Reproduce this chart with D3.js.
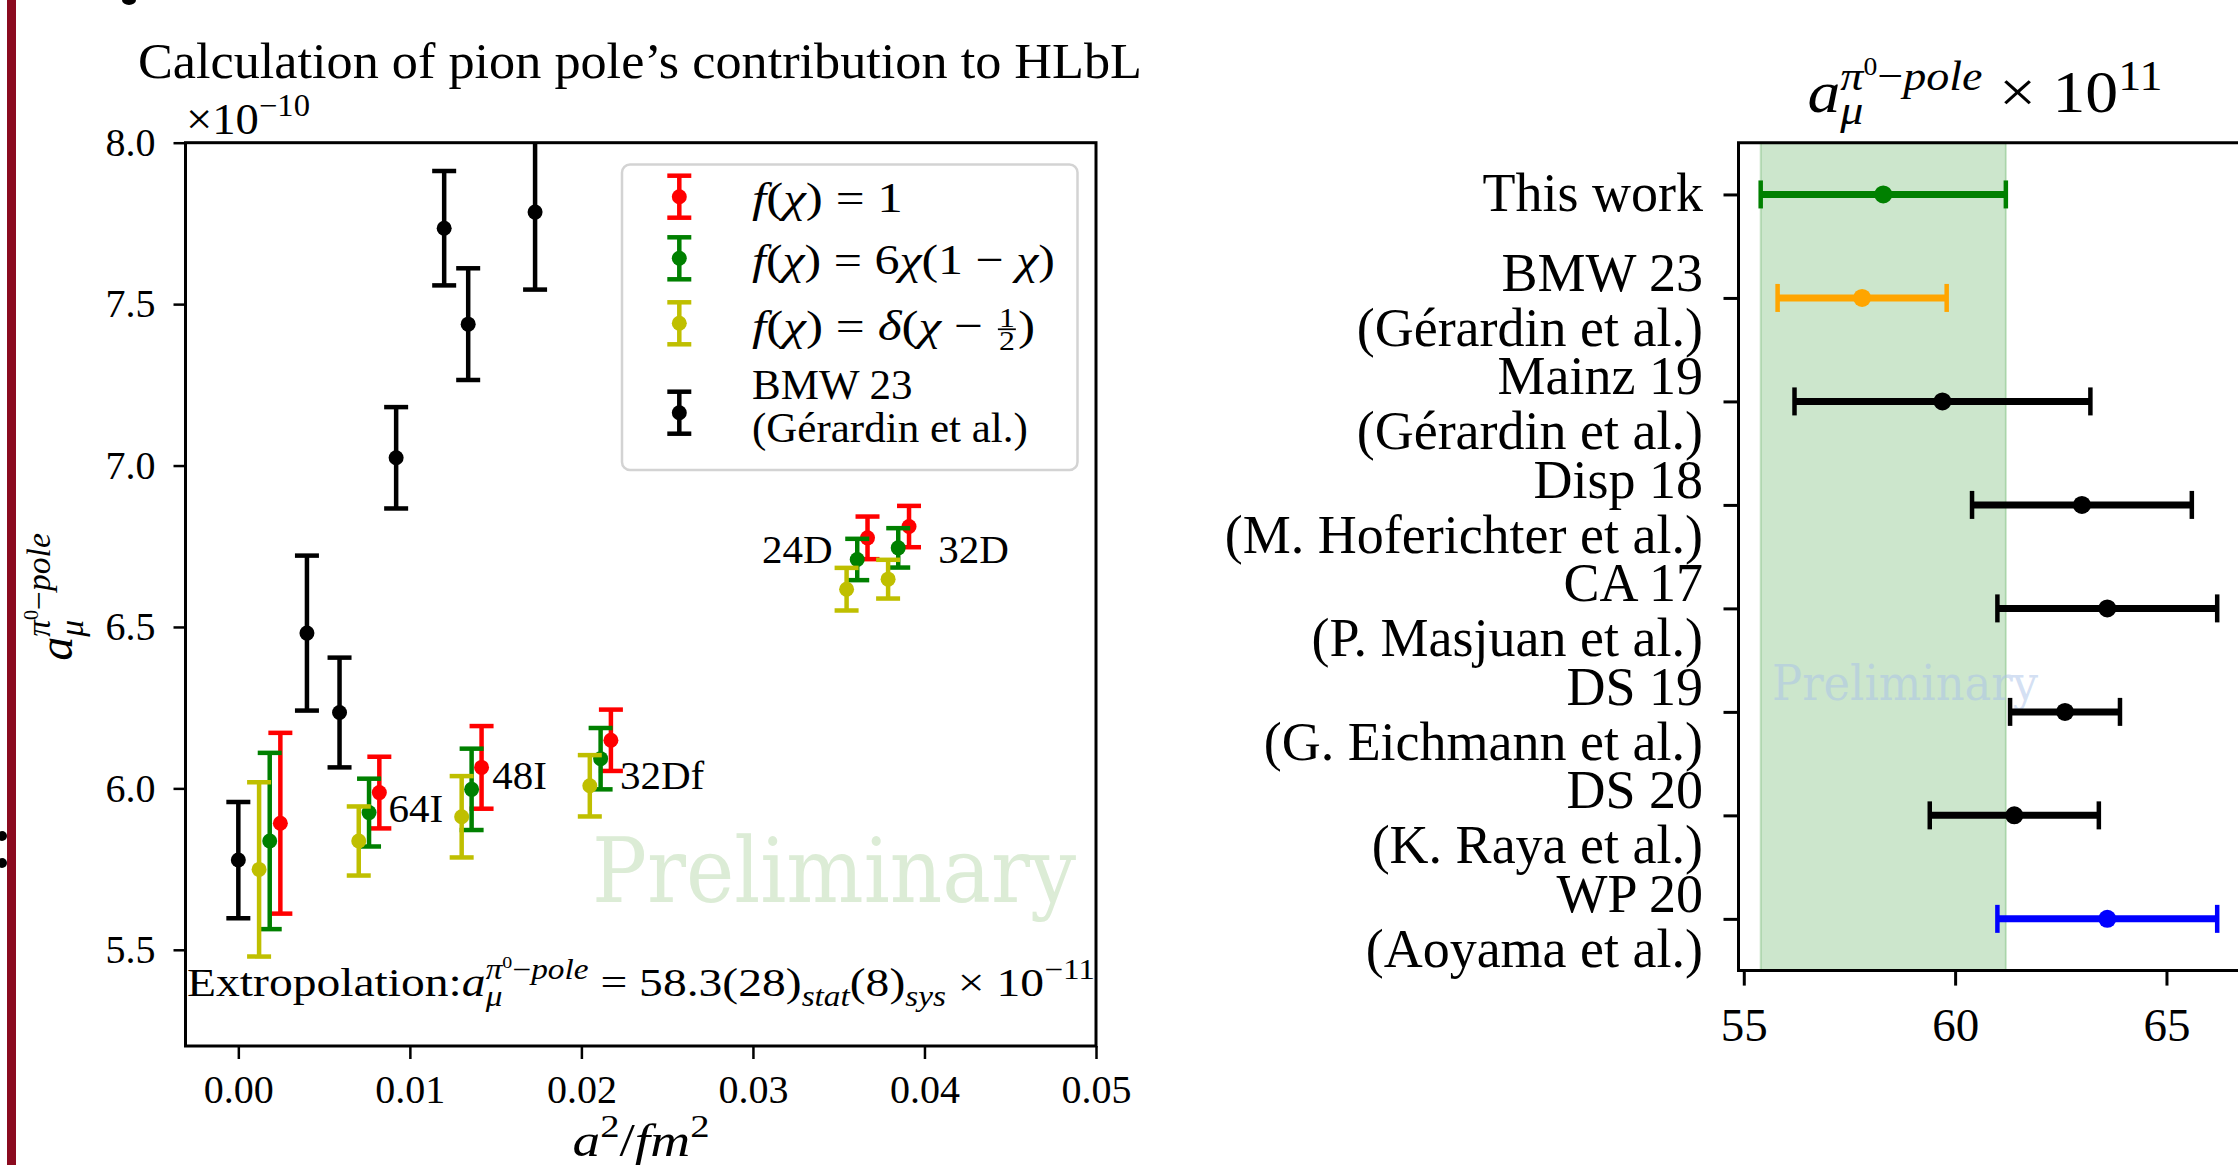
<!DOCTYPE html>
<html>
<head>
<meta charset="utf-8">
<script src="https://cdn.jsdelivr.net/npm/d3@7"></script>
<style>
  body { margin: 0; background: #fff; }
  svg { display: block; font-family: "Liberation Serif", serif; }
</style>
</head>
<body>
<script>
// ---------- left panel data (a_mu in units of 1e-10) ----------
const xTicksL = [0, 0.01, 0.02, 0.03, 0.04, 0.05];
const yTicksL = [5.5, 6.0, 6.5, 7.0, 7.5, 8.0];

const redX = [0.00245, 0.00822, 0.01418, 0.02172, 0.03668, 0.0391];
const redY = [5.892, 5.987, 6.065, 6.149, 6.776, 6.811];
const redE = [0.28, 0.111, 0.128, 0.095, 0.066, 0.064];

const greenX = [0.00183, 0.00762, 0.0136, 0.02112, 0.03608, 0.03847];
const greenY = [5.837, 5.925, 5.997, 6.092, 6.709, 6.745];
const greenE = [0.273, 0.105, 0.126, 0.095, 0.064, 0.061];

const yellowX = [0.00121, 0.00702, 0.01302, 0.02049, 0.03546, 0.03788];
const yellowY = [5.749, 5.837, 5.912, 6.008, 6.617, 6.648];
const yellowE = [0.27, 0.107, 0.126, 0.095, 0.066, 0.06];

const bmwX = [0.0, 0.0040, 0.0059, 0.0092, 0.0120, 0.0134, 0.0173];
const bmwY = [5.778, 6.481, 6.235, 7.024, 7.735, 7.438, 7.785];
const bmwE = [0.18, 0.24, 0.17, 0.157, 0.177, 0.173, 0.24];

// ensemble labels (data coords)
const annText = ["64I", "48I", "32Df", "24D", "32D"];
const annX = [0.00875, 0.01481, 0.02225, 0.03464, 0.0408];
const annY = [5.897, 5.998, 5.998, 6.698, 6.698];

// ---------- right panel data (a_mu x 1e11) ----------
const rightNames = [
  ["This work"],
  ["BMW 23", "(Gérardin et al.)"],
  ["Mainz 19", "(Gérardin et al.)"],
  ["Disp 18", "(M. Hoferichter et al.)"],
  ["CA 17", "(P. Masjuan et al.)"],
  ["DS 19", "(G. Eichmann et al.)"],
  ["DS 20", "(K. Raya et al.)"],
  ["WP 20", "(Aoyama et al.)"]
];
const rightVal = [58.3, 57.8, 59.7, 63.0, 63.6, 62.6, 61.4, 63.6];
const rightErr = [2.9, 2.0, 3.5, 2.6, 2.6, 1.3, 2.0, 2.6];
const rightCol = ["green", "orange", "black", "black", "black", "black", "black", "blue"];
const xTicksR = [55, 60, 65];
const bandR = [55.4, 61.2];

const W = 2238, H = 1165;
const svg = d3.select("body").append("svg").attr("width", W).attr("height", H);
svg.append("rect").attr("width", W).attr("height", H).attr("fill", "#fff");

// slide leftovers at the edge
svg.append("rect").attr("x", 7).attr("y", 0).attr("width", 9).attr("height", H).attr("fill", "#8b0b1f");
svg.append("circle").attr("cx", 2).attr("cy", 836).attr("r", 5).attr("fill", "#000");
svg.append("circle").attr("cx", 2).attr("cy", 863).attr("r", 5).attr("fill", "#000");
svg.append("ellipse").attr("cx", 129).attr("cy", 0).attr("rx", 7).attr("ry", 5).attr("fill", "#000");

// lays out a row of text runs (with sub/superscripts) and places it
function mathLabel(parent, runs, size, o) {
  const outer = parent.append("g");
  const inner = outer.append("g").attr("fill", o.color || "#000");
  let x = 0, prevStart = 0, prevEnd = 0;
  runs.forEach(r => {
    const fs = size * (r.sz || 1);
    const start = r.stack ? prevStart : x;
    if (r.frac) {
      const a = inner.append("text").attr("y", -0.31 * size).style("font-size", fs + "px").text(r.frac[0]);
      const b = inner.append("text").attr("y", 0.24 * size).style("font-size", fs + "px").text(r.frac[1]);
      const wa = a.node().getComputedTextLength(), wb = b.node().getComputedTextLength();
      const w = Math.max(wa, wb) + 0.12 * size;
      a.attr("x", start + (w - wa) / 2);
      b.attr("x", start + (w - wb) / 2);
      inner.append("line").attr("x1", start + 0.04 * size).attr("x2", start + w - 0.04 * size)
        .attr("y1", -0.25 * size).attr("y2", -0.25 * size)
        .attr("stroke", o.color || "#000").attr("stroke-width", size * 0.04);
      prevStart = start; prevEnd = start + w; x = Math.max(x, prevEnd);
      return;
    }
    const t = inner.append("text").attr("x", start).attr("y", (r.dy || 0) * size)
      .style("font-size", fs + "px").style("font-style", r.it ? "italic" : "normal").text(r.t);
    const w = t.node().getComputedTextLength();
    prevStart = start; prevEnd = start + w;
    x = Math.max(x, prevEnd);
  });
  const s = o.width ? o.width / x : 1;
  const off = o.anchor === "middle" ? -x * s / 2 : o.anchor === "end" ? -x * s : 0;
  outer.attr("transform", `translate(${o.x},${o.y}) rotate(${o.rotate || 0}) translate(${off},0) scale(${s},1)`);
  return outer;
}

const NB = "\u00A0";
const apole = (sub, sup) => [
  { t: "a", it: 1 },
  { t: "μ", it: 1, sz: 0.7, dy: sub },
  { t: "π", it: 1, sz: 0.7, dy: sup, stack: 1 },
  { t: "0", sz: 0.42, dy: sup - 0.26 },
  { t: "−", sz: 0.7, dy: sup },
  { t: "pole", it: 1, sz: 0.7, dy: sup }
];

// =================== LEFT PANEL ===================
const L = { left: 185.5, right: 1096, top: 142.7, bottom: 1046 };
const xL = d3.scaleLinear().domain([-0.00308, 0.05]).range([L.left, L.right]);
const yL = d3.scaleLinear().domain([5.202, 8.0]).range([L.bottom, L.top]);

const left = svg.append("g");
left.append("clipPath").attr("id", "clipL").append("rect")
  .attr("x", L.left).attr("y", L.top).attr("width", L.right - L.left).attr("height", L.bottom - L.top);

// watermark
left.append("text").attr("x", 592).attr("y", 902)
  .attr("textLength", 484).attr("lengthAdjust", "spacingAndGlyphs")
  .style("font-family", "DejaVu Serif").style("font-size", "89px")
  .attr("fill", "#dcecd6").text("Preliminary");

const plotL = left.append("g").attr("clip-path", "url(#clipL)");

function vErrors(g, xs, ys, es, color) {
  const rows = d3.zip(xs, ys, es);
  const grp = g.append("g").attr("stroke", color).attr("stroke-width", 4.5);
  grp.selectAll("line.bar").data(rows).join("line").attr("class", "bar")
    .attr("x1", d => xL(d[0])).attr("x2", d => xL(d[0]))
    .attr("y1", d => yL(d[1] - d[2])).attr("y2", d => yL(d[1] + d[2]));
  [-1, 1].forEach(sgn => {
    grp.selectAll("line.cap" + (sgn > 0 ? "t" : "b")).data(rows).join("line")
      .attr("class", "cap" + (sgn > 0 ? "t" : "b"))
      .attr("x1", d => xL(d[0]) - 12).attr("x2", d => xL(d[0]) + 12)
      .attr("y1", d => yL(d[1] + sgn * d[2])).attr("y2", d => yL(d[1] + sgn * d[2]));
  });
  g.append("g").selectAll("circle").data(rows).join("circle")
    .attr("cx", d => xL(d[0])).attr("cy", d => yL(d[1])).attr("r", 7.5).attr("fill", color);
}
vErrors(plotL, redX, redY, redE, "#ff0000");
vErrors(plotL, greenX, greenY, greenE, "#008000");
vErrors(plotL, yellowX, yellowY, yellowE, "#bfbf00");
vErrors(plotL, bmwX, bmwY, bmwE, "#000");

// axes
const axL = left.append("g").attr("transform", `translate(0,${L.bottom})`)
  .call(d3.axisBottom(xL).tickValues(xTicksL).tickFormat(d3.format(".2f")).tickSize(13).tickPadding(16));
const ayL = left.append("g").attr("transform", `translate(${L.left},0)`)
  .call(d3.axisLeft(yL).tickValues(yTicksL).tickFormat(d3.format(".1f")).tickSize(12).tickPadding(18));
[axL, ayL].forEach(a => {
  a.select(".domain").remove();
  a.selectAll(".tick line").attr("stroke", "#000").attr("stroke-width", 2.5);
  a.selectAll(".tick text").attr("font-family", "Liberation Serif").attr("font-size", 40).attr("fill", "#000");
});
left.append("rect").attr("x", L.left).attr("y", L.top).attr("width", L.right - L.left)
  .attr("height", L.bottom - L.top).attr("fill", "none").attr("stroke", "#000").attr("stroke-width", 3);

// ensemble labels
left.append("g").selectAll("text").data(d3.zip(annText, annX, annY)).join("text")
  .attr("x", d => xL(d[1])).attr("y", d => yL(d[2]))
  .attr("text-anchor", d => d[0] === "24D" ? "end" : "start")
  .style("font-size", "41px").text(d => d[0]);

// title, offset, axis labels
left.append("text").attr("x", 640).attr("y", 78).attr("text-anchor", "middle")
  .attr("textLength", 1004).attr("lengthAdjust", "spacingAndGlyphs")
  .style("font-size", "50px").text("Calculation of pion pole’s contribution to HLbL");
mathLabel(left, [{ t: "×10" }, { t: "−10", sz: 0.7, dy: -0.42 }], 44, { x: 186, y: 134, width: 124 });
mathLabel(left, apole(0.22, -0.45), 48, { x: 72, y: 597, anchor: "middle", rotate: -90 });
mathLabel(left, [{ t: "a", it: 1 }, { t: "2", sz: 0.7, dy: -0.42 }, { t: "/" }, { t: "fm", it: 1 }, { t: "2", sz: 0.7, dy: -0.42 }],
  46, { x: 641, y: 1156, anchor: "middle", width: 137 });

// extrapolation result
mathLabel(left, [{ t: "Extropolation:" }].concat(apole(0.25, -0.42), [
  { t: NB + "=" + NB + "58.3(28)" }, { t: "stat", it: 1, sz: 0.7, dy: 0.25 },
  { t: "(8)" }, { t: "sys", it: 1, sz: 0.7, dy: 0.25 },
  { t: NB + "×" + NB + "10" }, { t: "−11", sz: 0.7, dy: -0.42 }
]), 41, { x: 187, y: 996, width: 908 });

// legend
const lg = left.append("g");
lg.append("rect").attr("x", 622).attr("y", 164.5).attr("width", 455.5).attr("height", 305.5).attr("rx", 8)
  .attr("fill", "#fff").attr("fill-opacity", 0.8).attr("stroke", "#d3d3d3").attr("stroke-width", 2.5);
const legColors = ["#ff0000", "#008000", "#bfbf00", "#000"];
const legRows = [196.7, 258.3, 323.3, 412.7];
legColors.forEach((c, i) => {
  const cy = legRows[i], cx = 679.3;
  const h = lg.append("g").attr("stroke", c).attr("stroke-width", 4.5);
  h.append("line").attr("x1", cx).attr("x2", cx).attr("y1", cy - 21).attr("y2", cy + 21);
  h.append("line").attr("x1", cx - 12).attr("x2", cx + 12).attr("y1", cy - 21).attr("y2", cy - 21);
  h.append("line").attr("x1", cx - 12).attr("x2", cx + 12).attr("y1", cy + 21).attr("y2", cy + 21);
  lg.append("circle").attr("cx", cx).attr("cy", cy).attr("r", 7.5).attr("fill", c);
});
const fchi = [{ t: "f", it: 1 }, { t: "(" }, { t: "χ", it: 1 }];
mathLabel(lg, fchi.concat([{ t: ")" + NB + "=" + NB + "1" }]), 43, { x: 752, y: 212, width: 151 });
mathLabel(lg, fchi.concat([{ t: ")" + NB + "=" + NB + "6" }, { t: "χ", it: 1 }, { t: "(1" + NB + "−" + NB }, { t: "χ", it: 1 }, { t: ")" }]),
  43, { x: 752, y: 273.5, width: 303 });
mathLabel(lg, fchi.concat([{ t: ")" + NB + "=" + NB }, { t: "δ", it: 1 }, { t: "(" }, { t: "χ", it: 1 }, { t: NB + "−" + NB },
  { frac: ["1", "2"], sz: 0.62 }, { t: ")" }]), 43, { x: 752, y: 340, width: 283 });
lg.append("text").attr("x", 752).attr("y", 398.5).style("font-size", "43px").text("BMW 23");
lg.append("text").attr("x", 752).attr("y", 442).style("font-size", "43px").text("(Gérardin et al.)");

// =================== RIGHT PANEL ===================
const R = { left: 1738.5, right: 2262, top: 142.7, bottom: 970.6 };
const xR = d3.scaleLinear().domain([54.875, 67.26]).range([R.left, R.right]);
const yR = d3.scalePoint().domain(d3.range(rightNames.length)).range([R.top, R.bottom]).padding(0.5);
const right = svg.append("g");

right.append("rect").attr("x", xR(bandR[0])).attr("y", R.top).attr("width", xR(bandR[1]) - xR(bandR[0]))
  .attr("height", R.bottom - R.top).attr("fill", "green").attr("fill-opacity", 0.2)
  .attr("stroke", "green").attr("stroke-opacity", 0.2).attr("stroke-width", 2);

right.append("text").attr("x", 1772).attr("y", 700)
  .attr("textLength", 266).attr("lengthAdjust", "spacingAndGlyphs")
  .style("font-family", "DejaVu Serif").style("font-size", "49px")
  .attr("fill", "#a9c1e8").attr("fill-opacity", 0.5).text("Preliminary");

const rRows = rightVal.map((v, i) => ({ i, v, e: rightErr[i], c: rightCol[i] }));
const eb = right.append("g").selectAll("g").data(rRows).join("g")
  .attr("stroke", d => d.c).attr("fill", d => d.c);
eb.append("line").attr("stroke-width", 7)
  .attr("x1", d => xR(d.v - d.e)).attr("x2", d => xR(d.v + d.e))
  .attr("y1", d => yR(d.i)).attr("y2", d => yR(d.i));
[-1, 1].forEach(sgn => {
  eb.append("line").attr("stroke-width", 4.5)
    .attr("x1", d => xR(d.v + sgn * d.e)).attr("x2", d => xR(d.v + sgn * d.e))
    .attr("y1", d => yR(d.i) - 14).attr("y2", d => yR(d.i) + 14);
});
eb.append("circle").attr("stroke", "none").attr("r", 9)
  .attr("cx", d => xR(d.v)).attr("cy", d => yR(d.i));

const axR = right.append("g").attr("transform", `translate(0,${R.bottom})`)
  .call(d3.axisBottom(xR).tickValues(xTicksR).tickFormat(d3.format("d")).tickSize(15).tickPadding(22));
const ayR = right.append("g").attr("transform", `translate(${R.left},0)`)
  .call(d3.axisLeft(yR).tickFormat("").tickSize(15));
[axR, ayR].forEach(a => {
  a.select(".domain").remove();
  a.selectAll(".tick line").attr("stroke", "#000").attr("stroke-width", 3);
  a.selectAll(".tick text").attr("font-family", "Liberation Serif").attr("font-size", 47).attr("fill", "#000");
});
right.append("path")
  .attr("d", `M${R.right},${R.top}H${R.left}V${R.bottom}H${R.right}`)
  .attr("fill", "none").attr("stroke", "#000").attr("stroke-width", 3);

// category labels
const lab = right.append("g").attr("text-anchor", "end").style("font-size", "54px");
rightNames.forEach((lines, i) => {
  const t = yR(i);
  if (lines.length === 1) {
    lab.append("text").attr("x", 1703).attr("y", t + 17).text(lines[0]);
  } else {
    lab.append("text").attr("x", 1703).attr("y", t - 7).text(lines[0]);
    lab.append("text").attr("x", 1703).attr("y", t + 48).text(lines[1]);
  }
});

mathLabel(right, apole(0.2, -0.36).concat([{ t: NB + "×" + NB + "10" }, { t: "11", sz: 0.7, dy: -0.36 }]),
  60, { x: 1807.5, y: 111.7, width: 355 });
</script>
</body>
</html>
